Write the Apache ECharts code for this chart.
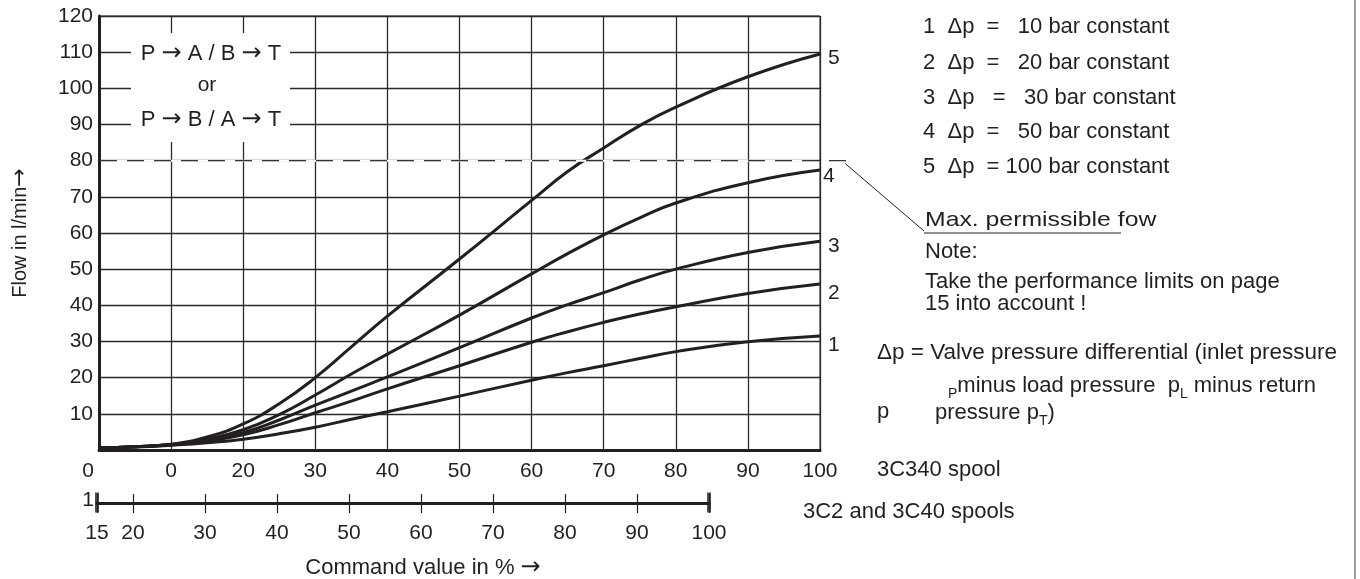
<!DOCTYPE html>
<html>
<head>
<meta charset="utf-8">
<title>Flow vs command value</title>
<script src="https://cdn.jsdelivr.net/npm/echarts@6/dist/echarts.min.js"></script>
<style>
  html, body { margin: 0; padding: 0; background: #fff; }
  #chart { width: 1360px; height: 579px; }
</style>
</head>
<body>
<div id="chart"></div>
<script>
// Command value (%) for the 3C340 spool scale
const commandPct = [0, 5, 10, 15, 20, 25, 30, 35, 40, 50, 60, 65, 70, 75, 80, 90, 100];

// Flow in l/min for each constant valve pressure differential
const flow10bar  = [0.6, 0.8, 1.3, 2.0, 3.0, 4.5, 6.3, 8.5, 10.6, 14.9, 19.3, 21.4, 23.3, 25.3, 27.2, 29.9, 31.5];
const flow20bar  = [0.6, 0.9, 1.4, 2.5, 4.2, 7.0, 10.3, 13.5, 16.9, 23.3, 29.8, 32.7, 35.3, 37.6, 39.6, 43.3, 45.9];
const flow30bar  = [0.6, 0.9, 1.5, 2.8, 4.8, 8.3, 12.4, 16.3, 20.2, 28.3, 36.5, 40.2, 43.5, 47.0, 50.0, 54.6, 57.7];
const flow50bar  = [0.6, 0.9, 1.5, 3.0, 5.6, 9.8, 15.2, 21.0, 26.5, 37.3, 48.7, 54.3, 59.5, 64.2, 68.3, 73.9, 77.4];
const flow100bar = [0.6, 0.9, 1.6, 3.6, 7.2, 12.8, 20.0, 28.5, 37.0, 52.8, 69.0, 77.0, 83.5, 89.7, 94.8, 103.2, 109.5];

const curveNames = ['1', '2', '3', '4', '5'];
const curveLabelShift = [9, 9, 5, 6, 4];
const curveLabelGap = [8, 8, 8, 3, 8];

// Second scale: 3C2 and 3C40 spools
const spoolScaleMin = 15;
const spoolScaleMax = 100;
const spoolScaleTicks = [15, 20, 30, 40, 50, 60, 70, 80, 90, 100];

// Maximum permissible flow (l/min)
const MAX_FLOW = 80;
const MAX_FLOW_LINE_END = 104.9;

const legendLines = [
  '1  \u0394p  =   10 bar constant',
  '2  \u0394p  =   20 bar constant',
  '3  \u0394p   =   30 bar constant',
  '4  \u0394p  =   50 bar constant',
  '5  \u0394p  = 100 bar constant'
];

const FONT = '"Liberation Sans", Arial, Helvetica, sans-serif';
const INK = '#231f20';
const GRID_INK = '#2a2a2a';

const chart = echarts.init(document.getElementById('chart'), null, { renderer: 'canvas' });

const allFlows = [flow10bar, flow20bar, flow30bar, flow50bar, flow100bar];

const lineSeries = allFlows.map((vals, i) => ({
  name: curveNames[i],
  type: 'line',
  xAxisIndex: 0,
  yAxisIndex: 0,
  data: commandPct.map((x, k) => [x, vals[k]]),
  smooth: 0.5,
  showSymbol: false,
  symbol: 'none',
  silent: true,
  lineStyle: { color: INK, width: 3 },
  z: 5,
  endLabel: {
    show: true,
    formatter: '{a}',
    fontFamily: FONT,
    fontSize: 21,
    color: INK,
    distance: curveLabelGap[i],
    offset: [0, curveLabelShift[i]]
  }
}));

const option = {
  animation: false,
  backgroundColor: '#ffffff',
  textStyle: { fontFamily: FONT, color: INK },
  grid: [
    { left: 99, top: 16, width: 721, height: 434, show: true, borderColor: INK, borderWidth: 1 },
    { left: 97, top: 502, width: 612, height: 1 }
  ],
  xAxis: [
    {
      gridIndex: 0, type: 'value', min: 0, max: 100, interval: 10,
      axisLine: { show: true, onZero: false, lineStyle: { color: INK, width: 3 } },
      axisTick: { show: false },
      splitLine: { show: true, lineStyle: { color: GRID_INK, width: 1.3 } },
      axisLabel: {
        fontFamily: FONT, fontSize: 21, color: INK, margin: 11,
        alignMinLabel: 'right',
        formatter: v => (v === 0 ? '{z|0}' : v === 10 ? '0' : String(v)),
        rich: { z: { fontFamily: FONT, fontSize: 21, color: INK, padding: [0, 5, 0, 0] } }
      }
    },
    {
      gridIndex: 1, type: 'value', position: 'bottom', min: spoolScaleMin, max: spoolScaleMax,
      axisLine: { show: true, onZero: false, lineStyle: { color: INK, width: 3 } },
      axisTick: { show: true, length: 10, customValues: spoolScaleTicks, lineStyle: { color: INK, width: 1.2 } },
      splitLine: { show: false },
      axisLabel: {
        fontFamily: FONT, fontSize: 21, color: INK, margin: 20,
        customValues: spoolScaleTicks
      }
    },
    {
      gridIndex: 1, type: 'value', position: 'top', min: spoolScaleMin, max: spoolScaleMax,
      axisLine: { show: false },
      axisTick: { show: true, length: 9, customValues: spoolScaleTicks, lineStyle: { color: INK, width: 1.2 } },
      splitLine: { show: false },
      axisLabel: { show: false }
    }
  ],
  yAxis: [
    {
      gridIndex: 0, type: 'value', min: 0, max: 120, interval: 10,
      axisLine: { show: true, onZero: false, lineStyle: { color: INK, width: 3 } },
      axisTick: { show: false },
      splitLine: { show: true, lineStyle: { color: GRID_INK, width: 1.3 } },
      axisLabel: {
        fontFamily: FONT, fontSize: 21, color: INK, margin: 6,
        formatter: v => (v === 0 ? '' : String(v))
      },
      name: 'Flow in l/min{a|\u2192}',
      nameLocation: 'middle',
      nameGap: 68,
      nameTextStyle: {
        fontFamily: FONT, fontSize: 20, color: INK,
        rich: { a: { fontFamily: 'DejaVu Sans', fontSize: 22, color: INK } }
      }
    },
    { gridIndex: 1, type: 'value', min: 0, max: 1, show: false }
  ],
  series: lineSeries.concat([
    {
      // heavy end marks of the spool scale
      type: 'scatter',
      xAxisIndex: 1,
      yAxisIndex: 1,
      data: [[spoolScaleMin, 0.5], [spoolScaleMax, 0.5]],
      symbol: 'rect',
      symbolSize: [4, 20],
      itemStyle: { color: INK },
      silent: true
    }
  ])
};

chart.setOption(option);

// Annotation layer
const dashFrom = chart.convertToPixel({ gridIndex: 0 }, [0, MAX_FLOW]);
const dashTo = chart.convertToPixel({ gridIndex: 0 }, [MAX_FLOW_LINE_END, MAX_FLOW]);
const plotRight = chart.convertToPixel({ gridIndex: 0 }, [100, MAX_FLOW]);

function txt(x, y, text, extra) {
  return Object.assign({
    type: 'text', x: x, y: y, z: 60, silent: true,
    style: Object.assign({
      text: text, fontFamily: FONT, fontSize: 22, fill: INK,
      align: 'left', verticalAlign: 'middle'
    }, (extra && extra.style) || {})
  }, (extra && extra.el) || {});
}

const subRich = {
  s: { fontFamily: FONT, fontSize: 14, fill: INK, verticalAlign: 'bottom', lineHeight: 14 },
  n: { fontFamily: FONT, fontSize: 22, fill: INK, lineHeight: 30 }
};

const arrowRich = {
  n: { fontFamily: FONT, fontSize: 22, fill: INK },
  a: { fontFamily: 'DejaVu Sans', fontSize: 24, fill: INK }
};

const graphics = [
  // the 80 grid row is drawn dashed instead of solid
  {
    type: 'line', z: 39, silent: true,
    shape: { x1: dashFrom[0] + 2, y1: dashFrom[1], x2: plotRight[0] - 1, y2: plotRight[1] },
    style: { stroke: '#ffffff', lineWidth: 2 }
  },
  // max permissible flow line
  {
    type: 'line', z: 40, silent: true,
    shape: { x1: dashFrom[0] + 1, y1: dashFrom[1], x2: dashTo[0], y2: dashTo[1] },
    style: { stroke: '#333333', lineWidth: 1.4, lineDash: [17, 10] }
  },
  // leader to the note
  {
    type: 'line', z: 40, silent: true,
    shape: { x1: dashTo[0] - 10, y1: dashTo[1] + 3, x2: 924, y2: 231 },
    style: { stroke: INK, lineWidth: 1 }
  },
  {
    type: 'line', z: 40, silent: true,
    shape: { x1: 924, y1: 233, x2: 1121, y2: 233 },
    style: { stroke: INK, lineWidth: 1 }
  },
  // flow path box
  {
    type: 'rect', z: 50, silent: true,
    shape: { x: 131, y: 33, width: 159, height: 109 },
    style: { fill: '#ffffff' }
  },
  txt(211, 54, '{n|P }{a|\u2192}{n| A / B }{a|\u2192}{n| T}', { style: { align: 'center', rich: arrowRich } }),
  txt(207, 85, 'or', { style: { align: 'center', fontSize: 21 } }),
  txt(211, 120, '{n|P }{a|\u2192}{n| B / A }{a|\u2192}{n| T}', { style: { align: 'center', rich: arrowRich } }),

  // stray scale digit
  txt(88, 500, '1', { style: { align: 'center', fontSize: 21 } }),

  // x title
  txt(423, 568, '{n|Command value in % }{a|\u2192}', { style: { align: 'center', rich: arrowRich } }),

  // right border
  {
    type: 'line', z: 40, silent: true,
    shape: { x1: 1355, y1: 0, x2: 1355, y2: 579 },
    style: { stroke: '#a0a0a0', lineWidth: 2 }
  },

  // legend
  txt(923, 27, legendLines[0]),
  txt(923, 63, legendLines[1]),
  txt(923, 98, legendLines[2]),
  txt(923, 132, legendLines[3]),
  txt(923, 167, legendLines[4]),

  txt(925, 220, 'Max. permissible fow', { style: { fontSize: 21 }, el: { scaleX: 1.18, originX: 0, originY: 0 } }),
  txt(925, 252, 'Note:'),
  txt(925, 282, 'Take the performance limits on page'),
  txt(925, 304, '15 into account !'),

  txt(877, 353, '\u0394p = Valve pressure differential (inlet pressure', { style: { fontSize: 22.5 } }),
  txt(948, 386, '{s|P}{n|minus load pressure  p}{s|L}{n| minus return}', { style: { rich: subRich } }),
  txt(877, 412, 'p'),
  txt(935, 413, '{n|pressure p}{s|T}{n|)}', { style: { rich: subRich } }),

  txt(877, 470, '3C340 spool'),
  txt(803, 512, '3C2 and 3C40 spools')
];

chart.setOption({ graphic: graphics });
</script>
</body>
</html>
